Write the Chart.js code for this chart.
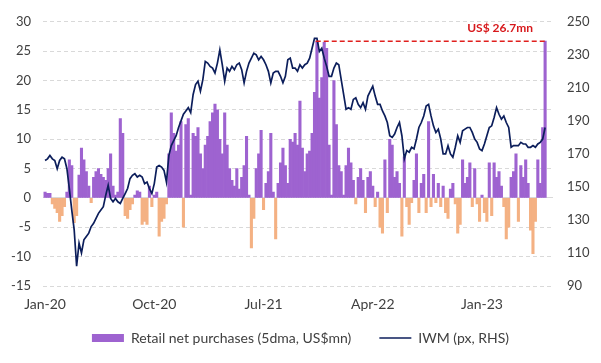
<!DOCTYPE html>
<html>
<head>
<meta charset="utf-8">
<script src="https://cdn.jsdelivr.net/npm/chart.js@4.4.1/dist/chart.umd.min.js"></script>
<style>
  html, body { margin: 0; padding: 0; background: #fff; }
  #wrap { width: 601px; height: 363px; position: relative; }
</style>
</head>
<body>
<div id="wrap"><canvas id="retailChart"></canvas></div>
<script>
/* -------------------------------------------------------
   DATA  (one reading every 0.2 months, starting Jan-20)
------------------------------------------------------- */

const STEP = 0.2;

// Retail net purchases, 5dma, US$mn (left axis)
const retailNet = [
  1.0, 0.8, 0.8, -1.0, -1.8, -2.5, -4.0, -3.0, -1.5, 1.0,
  6.5, 5.5, -4.2, -3.0, 3.9, 8.5, 6.5, 4.5, 2.0, -0.8,
  3.5, 4.5, 5.0, 4.0, 3.5, 3.0, 5.0, 7.5, 2.0, 0.5,
  1.0, 13.5, 11.0, -3.0, -3.5, -2.0, -1.0, 0.5, 1.2, 1.0,
  -4.5, -4.0, -4.5, 2.0, -1.5, 0.5, 1.0, -6.5, -4.0, -3.5,
  -1.0, 7.5, 14.5, 11.0, 8.0, 9.0, 13.0, -5.0, 12.5, 13.5,
  0.5, 11.0, 10.5, 12.0, 7.5, 5.0, 9.0, 10.5, 13.0, 14.5,
  16.0, 15.0, 10.0, 7.5, 14.5, 9.0, 5.0, 3.0, 2.0, 5.0,
  1.5, 3.5, 5.5, 10.5, 0.5, -8.5, -3.5, 5.0, 7.5, 11.5,
  -2.0, 2.5, 4.5, 11.0, 1.0, -7.0, 2.5, 6.0, 8.5, 5.5,
  2.5, 10.0, 9.5, 11.0, 9.0, 16.5, 8.5, 4.5, 7.5, 8.0,
  11.0, 18.0, 26.7, 17.0, 20.5, 26.5, 25.5, 9.0, 0.5, 20.0,
  12.5, 5.5, 4.5, 0.5, 5.5, 8.5, 6.0, 3.0, -1.0, 3.5,
  5.0, 3.0, -2.5, 3.5, 4.5, 2.0, -1.5, 1.0, -5.0, -6.0,
  6.5, -2.5, 10.0, 9.0, 3.5, 4.5, 2.5, -6.5, 7.0, -1.5,
  -4.5, -0.8, 3.0, 7.5, -2.5, 2.5, 4.0, -2.5, 13.0, -1.5,
  4.0, -0.8, 2.5, -1.5, 2.0, -2.5, -3.5, 1.5, 2.5, -1.0,
  -6.0, -4.5, 6.5, 2.5, 3.5, 6.0, -1.5, 5.0, -1.0, -4.0,
  0.5, -2.5, -4.0, 6.0, -3.0, 6.0, 3.5, 4.5, 2.0, -1.5,
  -7.0, -5.0, 3.5, 4.5, 7.5, -4.0, 5.5, 3.5, 6.5, 2.5,
  -5.5, -9.5, -4.0, 6.5, 2.5, 12.0, 26.7
];

// IWM price (right axis)
const iwmPrice = [
  166, 167, 169, 167, 166, 161, 166, 168, 167, 161,
  149, 136, 124, 102, 116, 110, 118, 120, 122, 126,
  128, 131, 134, 136, 138, 145, 151, 143, 141, 143,
  141, 140, 143, 146, 149, 155, 157, 158, 156, 157,
  156, 152, 153, 149, 146, 152, 162, 163, 162, 160,
  153, 169, 175, 178, 181, 186, 190, 194, 196, 198,
  195, 206, 212, 214, 208, 215, 226, 225, 223, 222,
  219, 225, 233, 224, 214, 222, 220, 223, 221, 224,
  225, 221, 213, 220, 225, 228, 231, 230, 227, 229,
  227, 224, 220, 213, 219, 220, 220, 217, 213, 217,
  227, 228, 222, 222, 220, 224, 222, 224, 225, 228,
  234, 240, 240, 232, 234, 228, 223, 217, 217, 222,
  225, 224, 215, 206, 197, 198, 197, 203, 204, 200,
  198, 201, 197, 205, 208, 211, 205, 200, 200, 196,
  193, 189, 181, 180, 182, 186, 189, 181, 167, 172,
  171, 174, 173, 179, 186, 189, 193, 199, 200, 193,
  187, 183, 185, 179, 170, 170, 175, 170, 168, 174,
  181, 177, 184, 185, 186, 186, 183, 179, 177, 173,
  172, 176, 181, 186, 187, 192, 198, 194, 191, 193,
  189, 186, 174, 175, 175, 175, 177, 176, 176, 174,
  174, 175, 174, 176, 177, 179, 186
];

// x axis ticks (months since Jan-20)
const tickMonths = [0, 9, 18, 27, 36];
const tickLabels = ["Jan-20", "Oct-20", "Jul-21", "Apr-22", "Jan-23"];

// red dashed marker: previous high vs latest print
const peakLevel = 26.7;
const peakSpan = [22.3, 41.2];
const peakLabel = "US$ 26.7mn";

const PURPLE = "#9E63D0";
const ORANGE = "#F4B183";
const NAVY = "#0C1E5B";
const RED = "#E0201E";
const TEXT = "#404040";

Chart.defaults.font.family = "Lato, 'Open Sans', sans-serif";
Chart.defaults.font.size = 13;
Chart.defaults.color = TEXT;

/* -------------------------------------------------------
   red label above the dashed line
------------------------------------------------------- */
const peakLabelPlugin = {
  id: "peakLabel",
  afterDatasetsDraw(chart) {
    const { ctx, scales } = chart;
    const px = scales.x.getPixelForValue(peakSpan[1]);
    const py = scales.y.getPixelForValue(peakLevel);
    ctx.save();
    ctx.font = "bold 12px Lato, sans-serif";
    ctx.fillStyle = "#D7191C";
    ctx.textAlign = "right";
    ctx.textBaseline = "middle";
    ctx.fillText(peakLabel, px - 12, py - 13);
    ctx.restore();
  }
};

// legend padding also spaces the two items apart; pull the row up a bit
const legendNudge = {
  id: "legendNudge",
  afterLayout(chart) {
    chart.legend.top -= 8;
    chart.legend.bottom -= 8;
  }
};

const ctx = document.getElementById("retailChart").getContext("2d");

new Chart(ctx, {
  type: "bar",
  data: {
    datasets: [
      {
        type: "bar",
        label: "Retail net purchases (5dma, US$mn)",
        data: retailNet.map((v, i) => ({ x: i * STEP, y: v })),
        yAxisID: "y",
        backgroundColor: (c) => (c.raw && c.raw.y < 0 ? ORANGE : PURPLE),
        barPercentage: 1,
        categoryPercentage: 1,
        order: 2
      },
      {
        type: "line",
        label: "IWM (px, RHS)",
        data: iwmPrice.map((v, i) => ({ x: i * STEP, y: v })),
        yAxisID: "y1",
        borderColor: NAVY,
        borderWidth: 1.7,
        pointRadius: 0,
        tension: 0,
        order: 1
      },
      {
        type: "line",
        label: "peak",
        data: peakSpan.map((m) => ({ x: m, y: peakLevel })),
        yAxisID: "y",
        borderColor: RED,
        borderWidth: 1.5,
        borderDash: [5, 3],
        pointRadius: 0,
        order: 0
      }
    ]
  },

  options: {
    responsive: true,
    maintainAspectRatio: false,
    animation: false,
    // top: 9 + half a tick label puts the 30 line at y=17
    layout: { padding: { top: 9, bottom: 0, left: 0, right: 0 } },

    plugins: {
      tooltip: { enabled: false },
      legend: {
        position: "bottom",
        labels: {
          usePointStyle: true,
          pointStyleWidth: 32,
          boxHeight: 8,
          padding: 28,
          color: TEXT,
          font: { size: 14 },
          generateLabels: () => [
            { text: "Retail net purchases (5dma, US$mn)", fillStyle: PURPLE, strokeStyle: PURPLE,
              lineWidth: 0, pointStyle: "rect", datasetIndex: 0, fontColor: TEXT },
            { text: "IWM (px, RHS)", fillStyle: NAVY, strokeStyle: NAVY,
              lineWidth: 1.5, pointStyle: "line", datasetIndex: 1, fontColor: TEXT }
          ]
        }
      }
    },

    scales: {
      x: {
        type: "linear",
        min: -0.17,
        max: 41.85,
        offset: false,
        grid: { display: false, drawTicks: false, offset: false },
        border: { display: false },
        afterBuildTicks: (s) => { s.ticks = tickMonths.map((v) => ({ value: v })); },
        afterFit: (s) => { s.height = 25; },
        ticks: {
          autoSkip: false,
          maxRotation: 0,
          padding: 10,
          font: { size: 14 },
          callback: (v) => tickLabels[tickMonths.indexOf(v)] || ""
        }
      },
      y: {
        position: "left",
        min: -15,
        max: 30,
        afterFit: (s) => { s.width = 43; },
        ticks: { stepSize: 5, padding: 12 },
        grid: { color: "#D9D9D9", lineWidth: 1, drawTicks: false },
        border: {
          display: false,
          dash: (c) => (c.tick && c.tick.value === 0 ? [] : [4, 3])
        }
      },
      y1: {
        position: "right",
        min: 90,
        max: 250,
        afterFit: (s) => { s.width = 48; },
        ticks: { stepSize: 20, padding: 14 },
        grid: { display: false, drawTicks: false },
        border: { display: false }
      }
    }
  },
  plugins: [peakLabelPlugin, legendNudge]
});
</script>
</body>
</html>
